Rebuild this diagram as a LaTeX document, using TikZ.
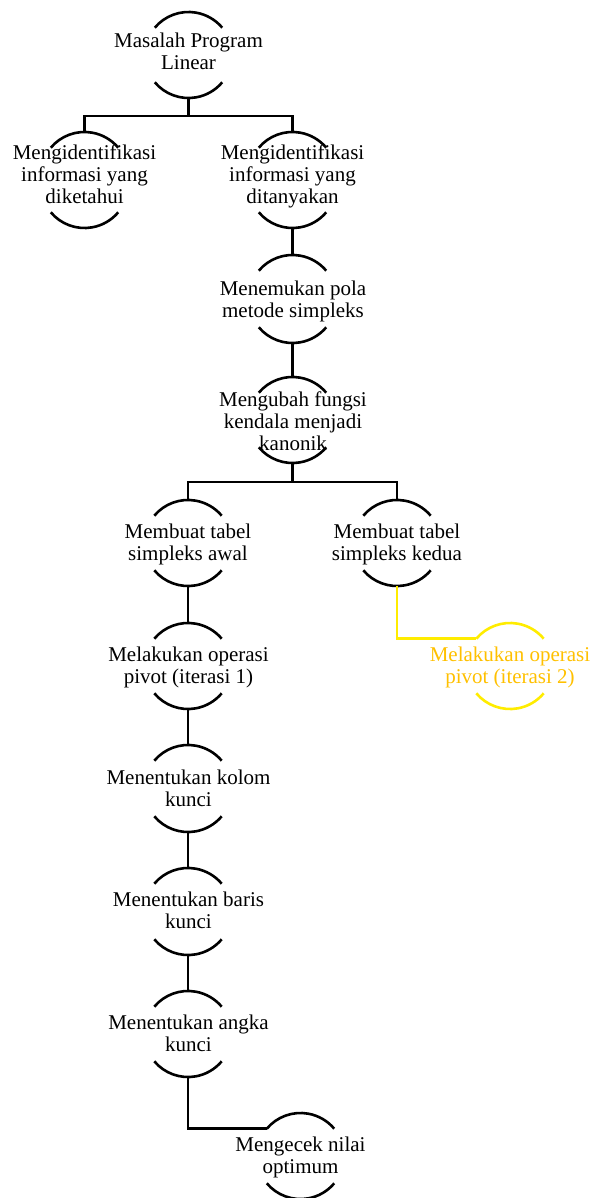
\documentclass[tikz,border=0pt]{standalone}
\usepackage{fontspec}
\setmainfont{Liberation Serif}
\definecolor{ylline}{RGB}{255,236,0}
\definecolor{yltext}{RGB}{255,192,0}
\newcommand\twoarcs[2][black]{%
  \draw[arcline,draw=#1] (#2t) ++(-33.7,-15.7) arc[start angle=140,end angle=40,radius=44];
  \draw[arcline,draw=#1] (#2b) ++(-33.7,15.7) arc[start angle=220,end angle=320,radius=44];}
\begin{document}
\begin{tikzpicture}[x=1pt,y=1pt,
  lbl/.style={inner sep=0pt,align=center,font=\fontsize{21}{22}\selectfont},
  arcline/.style={line width=2.6pt},
  conn/.style={line width=2.6pt}]
\useasboundingbox (0,0) rectangle (590,-1198);
% node text
\node[lbl] (n1) at (188.5,-54.6) {\strut Masalah Program\\\strut Linear};
\node[lbl] (n2) at (84.5,-177.6) {\strut Mengidentifikasi\\\strut informasi yang\\\strut diketahui};
\node[lbl] (n3) at (292.5,-177.6) {\strut Mengidentifikasi\\\strut informasi yang\\\strut ditanyakan};
\node[lbl] (n4) at (293,-302) {\strut Menemukan pola\\\strut metode simpleks};
\node[lbl] (n5) at (293,-424) {\strut Mengubah fungsi\\\strut kendala menjadi\\\strut kanonik};
\node[lbl] (n6) at (188,-544.6) {\strut Membuat tabel\\\strut simpleks awal};
\node[lbl] (n7) at (397,-544.6) {\strut Membuat tabel\\\strut simpleks kedua};
\node[lbl] (n8) at (188.5,-668.5) {\strut Melakukan operasi\\\strut pivot (iterasi 1)};
\node[lbl,text=yltext] (n13) at (510,-668) {\strut Melakukan operasi\\\strut pivot (iterasi 2)};
\node[lbl] (n9) at (188.5,-791) {\strut Menentukan kolom\\\strut kunci};
\node[lbl] (n10) at (188.5,-913) {\strut Menentukan baris\\\strut kunci};
\node[lbl] (n11) at (188.5,-1035.6) {\strut Menentukan angka\\\strut kunci};
\node[lbl] (n12) at (300.5,-1157.6) {\strut Mengecek nilai\\\strut optimum};
% arc apex points
\coordinate (n1t) at (188.5,-12);  \coordinate (n1b) at (188.5,-98);
\coordinate (n2t) at (84.5,-132);  \coordinate (n2b) at (84.5,-228);
\coordinate (n3t) at (292.5,-132); \coordinate (n3b) at (292.5,-228);
\coordinate (n4t) at (292.5,-255); \coordinate (n4b) at (292.5,-343);
\coordinate (n5t) at (292.5,-377); \coordinate (n5b) at (292.5,-463);
\coordinate (n6t) at (188,-500);   \coordinate (n6b) at (188,-586);
\coordinate (n7t) at (397,-500);   \coordinate (n7b) at (397,-586);
\coordinate (n8t) at (188,-623);   \coordinate (n8b) at (188,-709);
\coordinate (n13t) at (510,-623);  \coordinate (n13b) at (510,-709);
\coordinate (n9t) at (188,-745);   \coordinate (n9b) at (188,-832);
\coordinate (n10t) at (188,-868);  \coordinate (n10b) at (188,-955);
\coordinate (n11t) at (188,-991);  \coordinate (n11b) at (188,-1077);
\coordinate (n12t) at (300.5,-1113); \coordinate (n12b) at (300.5,-1199);
% arc end points used by elbow connectors
\coordinate (n12w) at (266.8,-1128.7);
\coordinate (n13w) at (476.3,-638.7);
% junctions
\coordinate (j1) at (188.5,-116);
\coordinate (j2) at (292.5,-482);
% arcs
\twoarcs{n1}\twoarcs{n2}\twoarcs{n3}\twoarcs{n4}\twoarcs{n5}
\twoarcs{n6}\twoarcs{n7}\twoarcs{n8}\twoarcs{n9}\twoarcs{n10}
\twoarcs{n11}\twoarcs{n12}
\twoarcs[ylline]{n13}
% connectors
\draw[conn] (n1b) -- (j1);
\draw[conn] (j1) -| (n2t);
\draw[conn] (j1) -| (n3t);
\draw[conn] (n3b) -- (n4t);
\draw[conn] (n4b) -- (n5t);
\draw[conn] (n5b) -- (j2);
\draw[conn] (j2) -| (n6t);
\draw[conn] (j2) -| (n7t);
\draw[conn] (n6b) -- (n8t);
\draw[conn] (n8b) -- (n9t);
\draw[conn] (n9b) -- (n10t);
\draw[conn] (n10b) -- (n11t);
\draw[conn] (n11b) |- (n12w);
\draw[conn,draw=ylline] (n7b) |- (n13w);
\end{tikzpicture}
\end{document}
